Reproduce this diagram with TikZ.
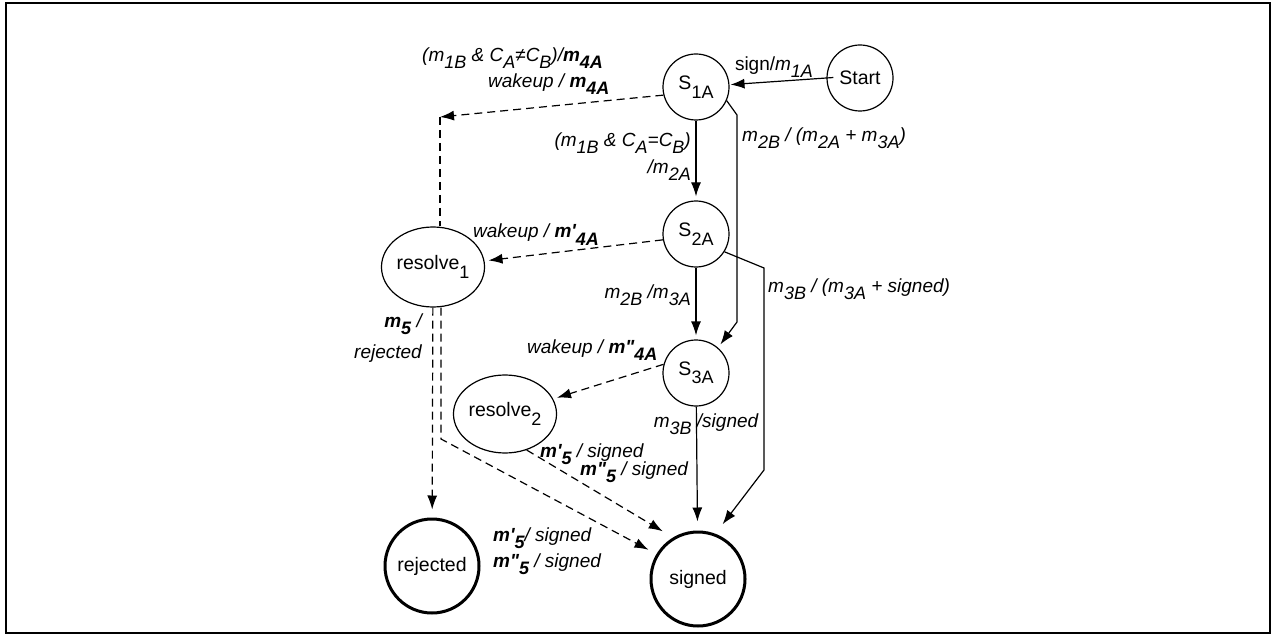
\documentclass[tikz,border=0pt]{standalone}
\usepackage{fontspec}
\setmainfont{Liberation Sans}
\usetikzlibrary{arrows.meta,shapes.geometric}

% lowered indices, as set in labels and inside the states
\newcommand{\lo}[1]{\raisebox{-7pt}{\fontsize{18}{18}\selectfont #1}}
\newcommand{\nlo}[1]{\raisebox{-8.5pt}{\fontsize{18}{18}\selectfont #1}}
\newcommand{\qs}{\textquotesingle}
\newcommand{\qd}{\textquotedbl}

\begin{document}
\begin{tikzpicture}[x=1pt,y=-1pt,
  state/.style={draw, circle, line width=1.2pt, minimum size=66pt, inner sep=0pt,
    font=\fontsize{19.5}{21}\selectfont},
  rstate/.style={draw, ellipse, line width=1.2pt, inner sep=0pt,
    font=\fontsize{19.5}{21}\selectfont},
  final/.style={state, line width=3pt, minimum size=94pt},
  lbl/.style={font=\fontsize{19}{21}\selectfont\itshape, inner sep=0pt},
  plain/.style={font=\fontsize{19}{21}\selectfont, inner sep=0pt},
  tr/.style={line width=1.2pt, -{Latex[length=14pt,width=10pt]}, shorten >=4pt},
  dline/.style={line width=1.2pt, dash pattern=on 8pt off 5pt},
  dtr/.style={tr, dline}]

\useasboundingbox (0,0) rectangle (1273,636);
\draw[line width=2pt] (6,3) rectangle (1270,633);

% states
\node[state] (start) at (860,78) {Start};
\node[state] (s1) at (696,87) {S\nlo{1A}};
\node[state] (s2) at (696,234) {S\nlo{2A}};
\node[state] (s3) at (696,373) {S\nlo{3A}};
\node[rstate, minimum width=90pt, minimum height=80pt] (r1) at (433,267) {resolve\nlo{1}};
\node[rstate, minimum width=86pt, minimum height=78pt] (r2) at (505,414) {resolve\nlo{2}};
\node[final] (rej) at (432,566) {rejected};
\node[final] (sig) at (698,579) {signed};

% bend points
\coordinate (c1) at (440,117);
\coordinate (c2) at (737,115);
\coordinate (c3) at (737,322);
\coordinate (c4) at (764,268);
\coordinate (c5) at (764,470);
\coordinate (c6) at (441,439);

% solid transitions
\draw[tr, shorten <=-7pt, shorten >=1pt] (start.west) -- (s1);
\draw[tr] (s1) -- (s2);
\draw[tr] (s1.-24) -- (c2) -- (c3) -- (s3.49);
\draw[tr] (s2) -- (s3);
\draw[tr, shorten >=12pt] (s2.-32) -- (c4) -- (c5) -- (sig.69);
\draw[tr, shorten >=9pt] (s3) -- (sig);

% dashed transitions
\draw[dtr, shorten >=0pt] (s1.194) -- (c1);
\draw[dline] (c1) -- (r1.north -| c1);
\draw[dtr] (s2.190) -- (r1);
\draw[dtr] (s3.165) -- (r2);
\draw[dtr, shorten >=8pt] (r1) -- (rej);
\draw[dtr, shorten >=9pt] (r1.south -| c6) -- (c6) -- (sig.149);
\draw[dtr, shorten >=12pt] (r2.-59) -- (sig.121);

% transition labels
\node[plain, anchor=base] (lsign) at (774,71) {sign/\textit{m\lo{1A}}};
\node[lbl, anchor=base west] (l1a) at (422,62) {(m\lo{1B} \& C\lo{A}≠C\lo{B})/\textbf{m\lo{4A}}};
\node[lbl, anchor=base west] (l1b) at (488,88) {wakeup / \textbf{m\lo{4A}}};
\node[lbl, anchor=base east] (l2a) at (691,147) {(m\lo{1B} \& C\lo{A}=C\lo{B})};
\node[lbl, anchor=base east] (l2b) at (691,174) {/m\lo{2A}};
\node[lbl, anchor=base west] (l3) at (742,142) {m\lo{2B} / (m\lo{2A} + m\lo{3A})};
\node[lbl, anchor=base west] (l4) at (473,238) {wakeup / \textbf{m\qs\lo{4A}}};
\node[lbl, anchor=base east] (l5) at (691,298) {m\lo{2B} /m\lo{3A}};
\node[lbl, anchor=base west] (l6) at (768,292) {m\lo{3B} / (m\lo{3A} + signed)};
\node[lbl, anchor=base west] (l7) at (527,353) {wakeup / \textbf{m\qd\lo{4A}}};
\node[lbl, anchor=base east] (l8a) at (422,327) {\textbf{m\lo{5}} /};
\node[lbl, anchor=base east] (l8b) at (422,358) {rejected};
\node[lbl, anchor=base] (l9) at (706,427) {m\lo{3B} /signed};
\node[lbl, anchor=base west] (l10a) at (540,457) {\textbf{m\qs\lo{5}} / signed};
\node[lbl, anchor=base west] (l10b) at (580,475) {\textbf{m\qd\lo{5}} / signed};
\node[lbl, anchor=base west] (l11a) at (493,541) {\textbf{m\qs\lo{5}}/ signed};
\node[lbl, anchor=base west] (l11b) at (493,567) {\textbf{m\qd\lo{5}} / signed};
\end{tikzpicture}
\end{document}
